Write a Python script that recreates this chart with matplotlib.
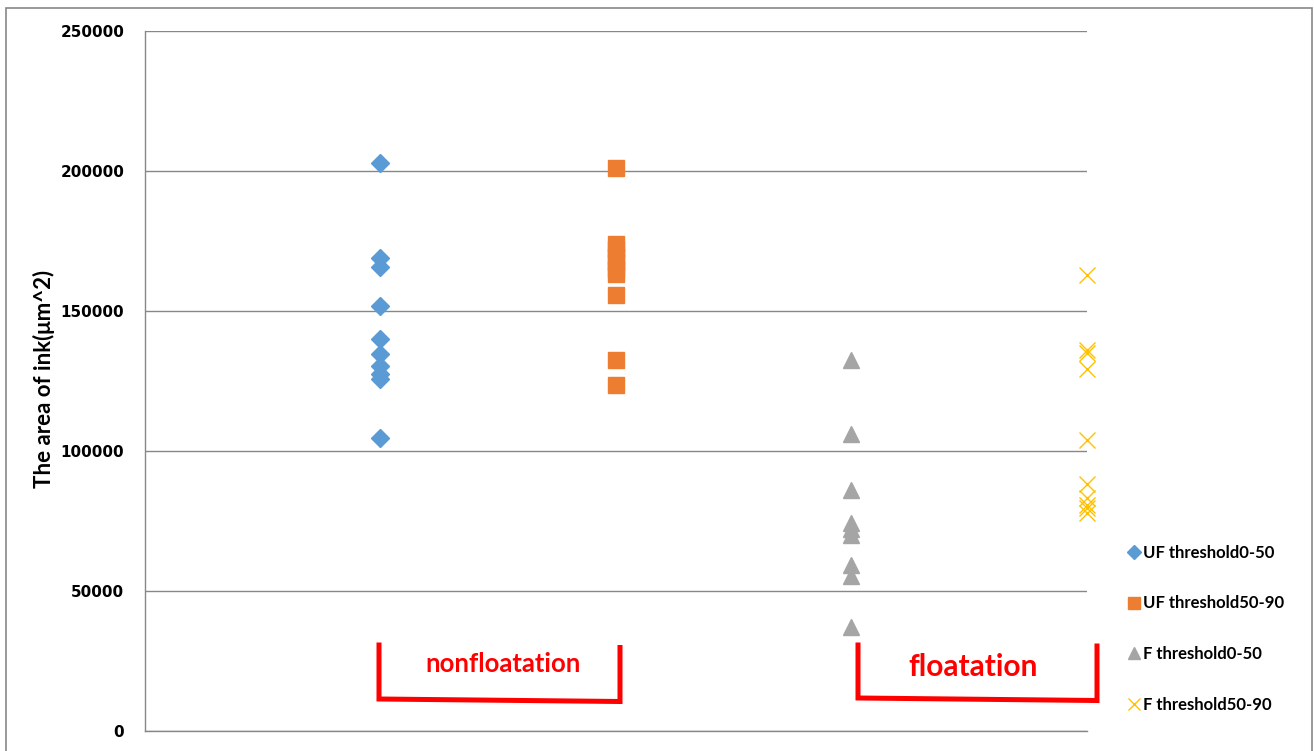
import matplotlib
matplotlib.use("Agg")
import matplotlib.pyplot as plt
from matplotlib.lines import Line2D
from matplotlib.patches import Rectangle

# Ink area measurements per group
groups = ["UF threshold0-50", "UF threshold50-90", "F threshold0-50", "F threshold50-90"]
uf_0_50 = [202700, 168800, 165800, 151900, 139900, 134500, 130500, 127500, 125800, 104800]
uf_50_90 = [201000, 173900, 172000, 169200, 167600, 165000, 163300, 155800, 132600, 123600]
f_0_50 = [132400, 106000, 86200, 74400, 72000, 69900, 59400, 55200, 37300]
f_50_90 = [162700, 136100, 134900, 129200, 104000, 88200, 83100, 80700, 79500, 77700]
y_ticks = [0, 50000, 100000, 150000, 200000, 250000]
y_label = "The area of ink(μm^2)"
bracket_labels = ["nonfloatation", "floatation"]

W, H = 1314, 751
fig = plt.figure(figsize=(W / 100, H / 100), dpi=100)
ax = fig.add_axes([145 / W, 1 - 731 / H, (1086.5 - 145) / W, (731 - 31) / H])

grid_c = "#878787"
series = [
    (uf_0_50, dict(marker="D", color="#5B9BD5", markersize=9.0, linestyle="none")),
    (uf_50_90, dict(marker="s", color="#ED7D31", markersize=11.5, linestyle="none")),
    (f_0_50, dict(marker="^", color="#A5A5A5", markersize=12.2, linestyle="none")),
    (f_50_90, dict(marker="x", color="#FFC000", markersize=11.5, markeredgewidth=1.0,
                   linestyle="none")),
]
for i, (vals, style) in enumerate(series, start=1):
    ax.plot([i] * len(vals), vals, label=groups[i - 1], clip_on=False, zorder=3, **style)

ax.set_xlim(0, 4)
ax.set_ylim(0, 250000)
ax.set_yticks(y_ticks)
ax.set_yticklabels([str(v) for v in y_ticks], fontsize=11, fontweight="bold",
                   family="DejaVu Sans")
ax.set_xticks([])
ax.tick_params(axis="y", length=0, pad=15.0)
ax.grid(axis="y", color=grid_c, linewidth=1.0)
ax.set_axisbelow(True)
for side in ("top", "right"):
    ax.spines[side].set_visible(False)
for side in ("left", "bottom"):
    ax.spines[side].set_color(grid_c)
    ax.spines[side].set_linewidth(1.0)

fig.text(44 / W, 1 - 379 / H, y_label, rotation=90, ha="center", va="center",
         fontsize=16, fontweight="bold", family="Lato")

leg = fig.legend(loc="upper left", bbox_to_anchor=(1126.5 / W, 1 - 545 / H),
                 frameon=False, markerscale=0.75, handlelength=0.9, handletextpad=0.1,
                 labelspacing=2.07, borderaxespad=0, borderpad=0,
                 prop=dict(family="Lato", weight="bold", size=12))


def fx(px, py):
    return px / W, 1 - py / H


# Red brackets grouping the two treatments
red = "#FF0000"
for pts in ([(379, 645), (379, 699), (620, 701.5), (620, 647.5)],
            [(858, 645), (858, 698), (1097, 700.5), (1097, 646)]):
    xs, ys = zip(*[fx(*p) for p in pts])
    fig.add_artist(Line2D(xs, ys, color=red, linewidth=3.6, solid_joinstyle="miter"))

fig.text(*fx(503, 664), bracket_labels[0], color=red, fontsize=18.5, fontweight="bold",
         family="Lato", ha="center", va="center")
fig.text(*fx(973, 667), bracket_labels[1], color=red, fontsize=21.5, fontweight="bold",
         family="Lato", ha="center", va="center")

# Outer chart frame
fig.add_artist(Rectangle(fx(6, 760), (1312 - 6) / W, (760 - 8) / H, transform=fig.transFigure,
                         fill=False, edgecolor=grid_c, linewidth=1.2, clip_on=False))

fig.savefig("out.png", dpi=100)
